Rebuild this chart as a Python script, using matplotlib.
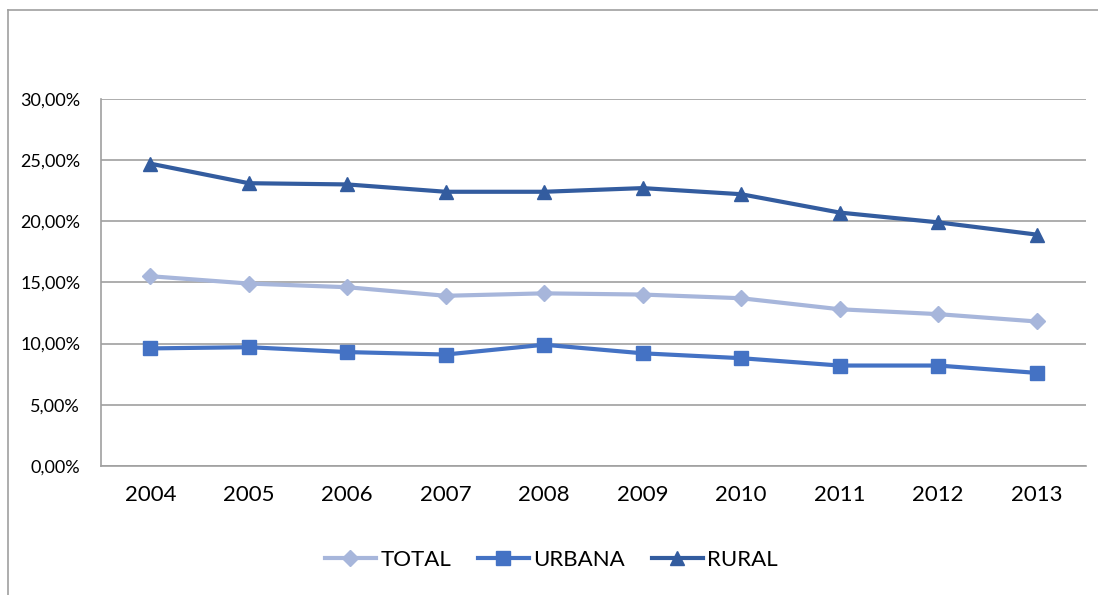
"""Line chart of TOTAL / URBANA / RURAL percentages, 2004-2013."""

import matplotlib
matplotlib.use('Agg')
import matplotlib.pyplot as plt
from matplotlib.lines import Line2D
from matplotlib.ticker import FuncFormatter, MultipleLocator

years = ['2004', '2005', '2006', '2007', '2008', '2009', '2010', '2011', '2012', '2013']
total = [15.5, 14.9, 14.6, 13.9, 14.1, 14.0, 13.7, 12.8, 12.4, 11.8]
urbana = [9.6, 9.7, 9.3, 9.1, 9.9, 9.2, 8.8, 8.2, 8.2, 7.6]
rural = [24.7, 23.1, 23.0, 22.4, 22.4, 22.7, 22.2, 20.7, 19.9, 18.9]


def main():
    plt.rcParams['font.family'] = ['Lato', 'DejaVu Sans']

    fig = plt.figure(figsize=(10.98, 5.95), dpi=100)
    ax = fig.add_axes([0.092, 0.217, 0.897, 0.617])

    x_pos = range(len(years))
    ax.plot(x_pos, total, color='#A7B6DB', lw=3, marker='D', ms=8,
            label='TOTAL', zorder=3)
    ax.plot(x_pos, urbana, color='#4472C4', lw=3, marker='s', ms=10,
            label='URBANA', zorder=3)
    ax.plot(x_pos, rural, color='#335C9F', lw=3, marker='^', ms=10.5,
            label='RURAL', zorder=3)

    ax.set_xlim(-0.5, len(years) - 0.5)
    ax.set_ylim(0, 30)
    ax.yaxis.set_major_locator(MultipleLocator(5))
    ax.yaxis.set_major_formatter(
        FuncFormatter(lambda v, _: f'{v:.2f}'.replace('.', ',') + '%'))
    ax.set_xticks(list(x_pos))
    ax.set_xticklabels(years, fontsize=16)
    ax.tick_params(axis='y', labelsize=13, length=0, pad=15)
    ax.tick_params(axis='x', length=0, pad=14)

    ax.grid(axis='y', color='#A0A0A0', lw=1.2)
    ax.set_axisbelow(True)
    for side in ['top', 'right']:
        ax.spines[side].set_visible(False)
    ax.spines['left'].set_color('#A0A0A0')
    ax.spines['left'].set_linewidth(1.2)
    ax.spines['bottom'].set_color('#A0A0A0')
    ax.spines['bottom'].set_linewidth(1.2)

    ax.legend(loc='center', bbox_to_anchor=(0.502, 0.059),
              bbox_transform=fig.transFigure, ncol=3, frameon=False,
              fontsize=16, handlelength=2.3, handletextpad=0.2,
              columnspacing=1.2)

    # chart frame, cut at the right and bottom edges
    fig.add_artist(Line2D([0.0075, 0.0075], [0.0, 0.983], color='#A0A0A0',
                          lw=1.2, transform=fig.transFigure))
    fig.add_artist(Line2D([0.0075, 1.0], [0.983, 0.983], color='#A0A0A0',
                          lw=1.2, transform=fig.transFigure))

    fig.savefig('out.png', dpi=100)


if __name__ == '__main__':
    main()
